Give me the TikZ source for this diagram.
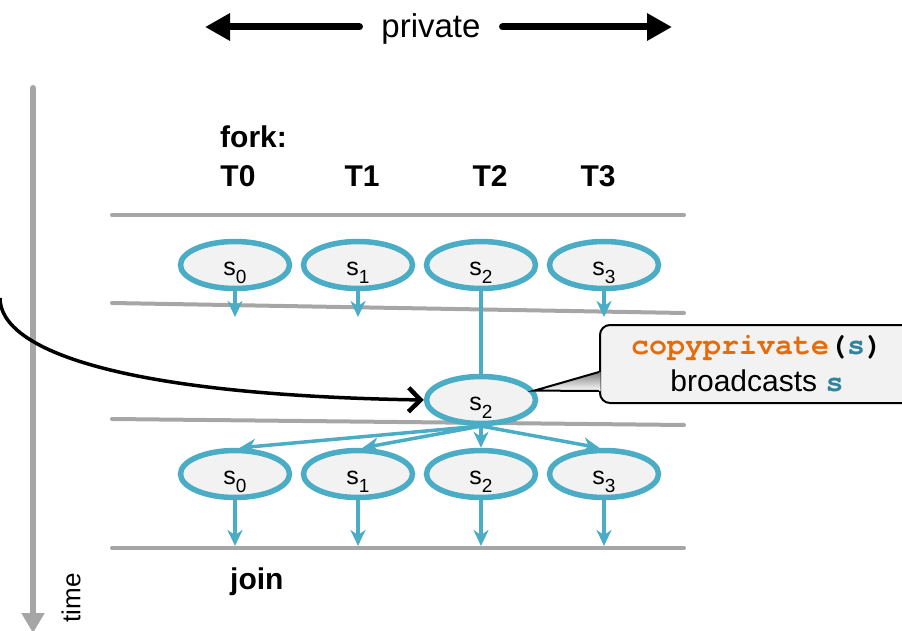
\documentclass[tikz,border=0pt]{standalone}
\usepackage{fontspec}
\setmainfont{Liberation Sans}
\newfontfamily\codefont{texgyrecursor}[Extension=.otf, UprightFont=*-regular, BoldFont=*-bold]
\usetikzlibrary{arrows.meta,shapes.geometric,calc}

\definecolor{thread}{HTML}{4BACC6}
\definecolor{barrier}{HTML}{A6A6A6}
\definecolor{shade}{HTML}{F2F2F2}
\definecolor{keyword}{HTML}{E46C0A}
\definecolor{varname}{HTML}{31849B}

\newcommand\idx[1]{\raisebox{-8pt}{\fontsize{19}{19}\selectfont#1}}
\newcommand\svar[1]{s\idx{#1}}
\newcommand\code[1]{{\codefont\bfseries #1}}

\tikzset{
  slot/.style={ellipse, draw=thread, fill=shade, line width=5.5pt,
    minimum width=109pt, minimum height=47pt, inner sep=0pt,
    font=\fontsize{25}{25}\selectfont, text height=20pt, text depth=0pt},
  flow/.style={draw=thread, line width=3.5pt,
    -{Stealth[length=16pt,width=15pt,inset=5pt]}},
  sync/.style={draw=barrier, line width=4pt, line cap=round},
  span/.style={line width=7pt, line cap=round,
    -{Triangle[length=25pt,width=26pt]}},
  heading/.style={font=\fontsize{30}{30}\selectfont\bfseries, inner sep=0pt}
}

\begin{document}
\begin{tikzpicture}[x=1pt, y=-1pt]
\useasboundingbox (0,0) rectangle (902,631);

% time axis
\coordinate (tstart) at (33,88);
\coordinate (tend) at (33,633);
\draw[barrier, line width=6pt, line cap=round, -{Triangle[length=20pt,width=22pt]}] (tstart) -- (tend);
\node[rotate=90, font=\fontsize{26}{26}\selectfont] (time) at (71,598) {time};

% private
\node[font=\fontsize{33}{33}\selectfont, text height=24pt, text depth=2pt,
  inner xsep=22pt, inner ysep=0pt, outer sep=0pt] (priv) at (431,27) {private};
\coordinate (pl) at (205,27);
\coordinate (pr) at (672,27);
\draw[span] (priv.west) -- (pl);
\draw[span] (priv.east) -- (pr);

% headings
\node[heading, anchor=base west] (fork) at (220,148) {fork:};
\foreach \n/\x in {0/238,1/362,2/490,3/598}
  \node[heading, anchor=base] (T\n) at (\x,187) {T\n};
\node[heading, anchor=base west] (join) at (230,589) {join};

% barriers
\draw[sync] (112,215) -- (684,215);
\draw[sync] (112,303) -- (684,313);
\draw[sync] (112,419) -- (684,425);
\draw[sync] (112,548) -- (684,548);

% copies of s
\foreach \i in {0,...,3} {
  \node[slot] (t\i) at (235+123*\i,265) {\svar{\i}};
  \node[slot] (b\i) at (235+123*\i,474) {\svar{\i}};
}
\node[slot] (m) at (481,400) {\svar{2}};

\foreach \i in {0,1,3} {
  \coordinate (tdown\i) at (235+123*\i,317);
  \draw[flow] (t\i.south) -- (tdown\i);
}
\draw[draw=thread, line width=3.5pt] (t2.south) -- (m.north);

\draw[flow] (m.-95) -- (b0.80);
\draw[flow] (m.-92) -- (b1.80);
\draw[flow] (m.south) -- (b2.north);
\draw[flow] (m.-88) -- (b3.100);

\foreach \i in {0,...,3} {
  \coordinate (bdown\i) at (235+123*\i,546);
  \draw[flow] (b\i.south) -- (bdown\i);
}

% incoming call
\coordinate (src) at (0,298);
\draw[line width=3.5pt, -{Straight Barb[length=12pt,width=24pt,line width=4.5pt]}]
  (src) .. controls (0,350) and (120,395) .. (m.west);

% callout
\node[draw, line width=2pt, fill=shade, rounded corners=10pt,
  minimum width=314pt, minimum height=78pt, align=center,
  font=\fontsize{30}{37}\selectfont] (note) at (757,364)
  {\code{\textcolor{keyword}{copyprivate}(\textcolor{varname}{s})}\\
   broadcasts \code{\textcolor{varname}{s}}};
\fill[shade] (m.10) -- ($(note.west)+(1.5,8)$) -- ($(note.west)+(1.5,27)$) -- cycle;
\draw[line width=2pt] ($(note.west)+(0,8)$) -- (m.10) -- ($(note.west)+(0,27)$);
\end{tikzpicture}
\end{document}
